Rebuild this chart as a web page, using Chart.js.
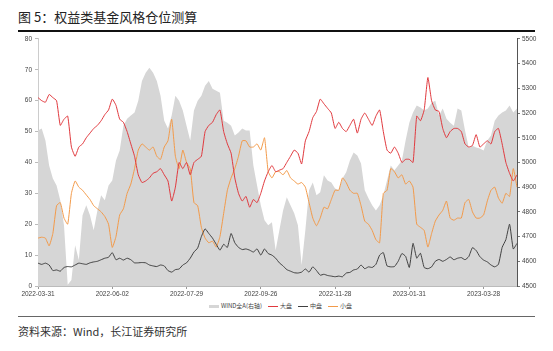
<!DOCTYPE html>
<html>
<head>
<meta charset="utf-8">
<script src="https://cdn.jsdelivr.net/npm/chart.js@4.4.0/dist/chart.umd.min.js"></script>
<style>
  body { margin: 0; background: #fff; font-family: "Noto Sans CJK SC", "Liberation Sans", sans-serif; }
  #page { position: relative; width: 553px; height: 351px; overflow: hidden; }
  #title { position: absolute; left: 18px; top: 7px; font-size: 13px; color: #222; white-space: nowrap; }
  #rule1 { position: absolute; left: 18px; top: 30px; width: 517px; height: 2px; background: #111; }
  #box { position: absolute; left: 0; top: 32px; width: 553px; height: 268px; }
  #legend { position: absolute; top: 301px; left: 0; width: 553px; text-align: center; font-size: 6px; color: #444; white-space: nowrap; padding-left: 8px; box-sizing: border-box; }
  #legend span.item { display: inline-block; margin: 0 3px; }
  #legend i { display: inline-block; width: 10px; vertical-align: middle; margin-right: 2px; }
  #rule2 { position: absolute; left: 18px; top: 316px; width: 517px; height: 1px; background: #666; }
  #source { position: absolute; left: 18px; top: 323px; font-size: 11px; color: #333; white-space: nowrap; }
</style>
</head>
<body>
<div id="page">
  <div id="title">图 5：权益类基金风格仓位测算</div>
  <div id="rule1"></div>
  <div id="box"><canvas id="c"></canvas></div>
  <div id="legend"></div>
  <div id="rule2"></div>
  <div id="source">资料来源：Wind，长江证券研究所</div>
</div>
<script>
// x axis date labels, one every 20 points (each point ~2 trading days)
var tickLabels = ['2022-03-31', '2022-06-02', '2022-07-29', '2022-09-26', '2022-11-28', '2023-01-31', '2023-03-28'];
var tickEvery = 20;

// WIND全A (right axis)
var windA = [5129, 5137, 5089, 4988, 4935, 4907, 4847, 4746, 4505, 4524,
    4665, 4605, 4786, 4827, 4786, 4726, 4806, 4867, 4847, 4907,
    4927, 5008, 5048, 5149, 5177, 5190, 5202, 5250, 5330, 5363,
    5383, 5363, 5330, 5270, 5169, 5137, 5190, 5270, 5250, 5210,
    5149, 5089, 5210, 5250, 5270, 5310, 5330, 5298, 5290, 5282,
    5169, 5161, 5149, 5109, 5121, 5137, 5129, 5129, 4988, 4907,
    4827, 4766, 4746, 4758, 4645, 4726, 4806, 4859, 4827, 4794,
    4746, 4585, 4726, 4887, 4919, 4867, 4879, 4948, 4927, 4919,
    4895, 4887, 4935, 4960, 5008, 5040, 5028, 4996, 4887, 4855,
    4827, 4806, 4827, 4867, 4927, 4988, 4968, 4988, 5008, 5089,
    5161, 5202, 5230, 5222, 5210, 5218, 5242, 5250, 5190, 5218,
    5177, 5161, 5149, 5218, 5210, 5129, 5060, 5068, 5060, 5056,
    5048, 5089, 5109, 5169, 5190, 5202, 5210, 5230, 5202, 5218];

// 大盘
var largeCap = [61, 60, 59.5, 62, 61, 60, 52, 54, 55, 45,
    42, 45, 46, 48, 49.5, 51, 52, 53.5, 55.5, 57,
    60.5, 58.5, 54, 53, 50, 46, 42, 36, 33.5, 34,
    35, 36.5, 37, 38, 36, 34, 27.5, 32, 40, 38,
    40, 36, 40, 41, 42, 50, 52, 53, 55.5, 57,
    50, 46, 43, 35, 30, 27.5, 29, 25.5, 28, 27,
    30, 34, 37, 39, 37, 37.5, 38, 40, 42, 44,
    43, 39.5, 47, 50, 54.5, 56.5, 60.5, 59, 57.5, 56,
    51, 53, 51, 50, 52, 54, 49.5, 54, 56, 54,
    52, 55, 57, 50, 44, 43, 45, 43, 40, 41,
    41, 40, 55, 53.5, 57, 67.5, 60, 57, 56.5, 51,
    48, 50, 51, 51, 50, 46, 45, 45.5, 49, 45,
    46, 47, 46, 50, 51, 46, 40, 36.5, 34, 36];

// 中盘
var midCap = [7.4, 7, 7.4, 6.8, 5, 5.2, 4.8, 6, 6.3, 6.2,
    6.8, 7.4, 7.2, 7, 7.5, 7.8, 8, 8.5, 9, 9.3,
    10.8, 8.5, 9, 8.4, 9, 8.5, 7.5, 7.5, 7.6, 7.5,
    6.8, 6.5, 6.3, 6.8, 6.5, 5, 4.5, 5.3, 5.5, 6.8,
    7.5, 9, 11, 12.3, 16, 18.5, 17, 15.5, 13.5, 11.6,
    13.5, 12.5, 17, 14, 12.5, 11.8, 12, 11.6, 11, 12,
    10, 12, 10.5, 10, 9, 7.5, 6.5, 5.3, 4.8, 4.3,
    4.2, 4.5, 5.5, 4.5, 6.2, 5, 3.5, 3.8, 3.4, 3.2,
    3, 3.2, 3, 4.2, 4.4, 5.2, 5.5, 6.8, 5.6, 6.2,
    6, 7, 10, 10.8, 6.5, 6.2, 6.3, 8, 10.5, 9.6,
    6, 13.8, 9, 10.6, 6, 5.6, 6.2, 8, 8.6, 8,
    8.6, 9.4, 8.5, 9, 9.2, 8.5, 9.5, 12.4, 11.5, 9.5,
    8.4, 7.8, 6.8, 6.2, 7, 12.5, 15, 20, 12, 13.8];

// 小盘
var smallCap = [15.5, 15.8, 15.5, 13, 17, 26, 27, 22, 20, 30,
    34, 32, 31, 29.5, 28, 26, 25, 24, 22.5, 20,
    12.5, 16, 23, 25, 30, 33, 38, 44, 46, 45,
    44, 45, 42, 41, 45, 47, 54, 42, 38, 44,
    40, 38, 27, 26, 19, 15.5, 14, 14.5, 12.6, 16,
    23.5, 31, 35, 38, 42, 47, 47, 45, 45, 46,
    44, 48, 37, 35, 37, 37, 36, 37.4, 35, 34,
    33, 33.5, 32, 27, 22, 19.5, 22, 25.5, 25, 28,
    31, 31, 35, 33.5, 31, 30, 30, 26, 21, 20,
    18, 15, 14, 30, 31, 38, 37, 35, 36, 33,
    34, 32, 20, 19, 18, 12.6, 17, 21, 23, 24.5,
    27.5, 22, 21.3, 22, 22, 27, 28, 24, 22, 22,
    23, 27.5, 31, 32, 28.5, 26.8, 30, 29, 38, 32];

var seriesNames = ['WIND全A(右轴)', '大盘', '中盘', '小盘'];
var seriesColors = ['#d6d6d6', '#e0393e', '#404040', '#f29a4a'];

var labels = largeCap.map(function(v, i) {
    return i % tickEvery === 0 ? tickLabels[i / tickEvery] : '';
});

var tickFont = { family: 'Liberation Sans', size: 6.5 };

new Chart(document.getElementById('c'), {
    type: 'line',
    data: {
        labels: labels,
        datasets: [
            { label: seriesNames[1], data: largeCap, yAxisID: 'y', borderColor: seriesColors[1], borderWidth: 1, pointRadius: 0, tension: 0.15, order: 0 },
            { label: seriesNames[2], data: midCap, yAxisID: 'y', borderColor: seriesColors[2], borderWidth: 1, pointRadius: 0, tension: 0.15, order: 0 },
            { label: seriesNames[3], data: smallCap, yAxisID: 'y', borderColor: seriesColors[3], borderWidth: 1, pointRadius: 0, tension: 0.15, order: 0 },
            { label: seriesNames[0], data: windA, yAxisID: 'y1', borderWidth: 0, borderColor: 'rgba(0,0,0,0)', backgroundColor: seriesColors[0], fill: 'start', pointRadius: 0, tension: 0, order: 1 }
        ]
    },
    options: {
        responsive: true,
        maintainAspectRatio: false,
        animation: false,
        layout: { padding: { top: 6, left: 0, right: 0, bottom: 0 } },
        plugins: { legend: { display: false }, tooltip: { enabled: false } },
        scales: {
            x: {
                offset: false,
                grid: { drawOnChartArea: false, tickLength: 3, color: '#999' },
                border: { color: '#bbb' },
                ticks: {
                    autoSkip: false, maxRotation: 0, padding: 1, color: '#444', font: tickFont,
                    callback: function(val) { return this.getLabelForValue(val) || null; }
                },
                afterFit: function(scale) { scale.height = 14; }
            },
            y: {
                position: 'left', min: 0, max: 80,
                grid: { drawOnChartArea: false, tickLength: 3, color: '#bbb' },
                border: { color: '#ccc' },
                ticks: { stepSize: 10, color: '#444', font: tickFont, padding: 3 },
                afterFit: function(scale) { scale.width = 38; }
            },
            y1: {
                position: 'right', min: 4500, max: 5500,
                grid: { drawOnChartArea: false, tickLength: 3, color: '#777' },
                border: { color: '#555' },
                ticks: {
                    stepSize: 100, color: '#444', font: tickFont, padding: 2,
                    callback: function(val) { return String(val); }
                },
                afterFit: function(scale) { scale.width = 36; }
            }
        }
    }
});

// legend, same order as the reference
var legend = document.getElementById('legend');
seriesNames.forEach(function(name, i) {
    var item = document.createElement('span');
    item.className = 'item';
    var mark = document.createElement('i');
    mark.style.height = i === 0 ? '3px' : '1px';
    mark.style.background = seriesColors[i];
    item.appendChild(mark);
    item.appendChild(document.createTextNode(name));
    legend.appendChild(item);
});
</script>
</body>
</html>
